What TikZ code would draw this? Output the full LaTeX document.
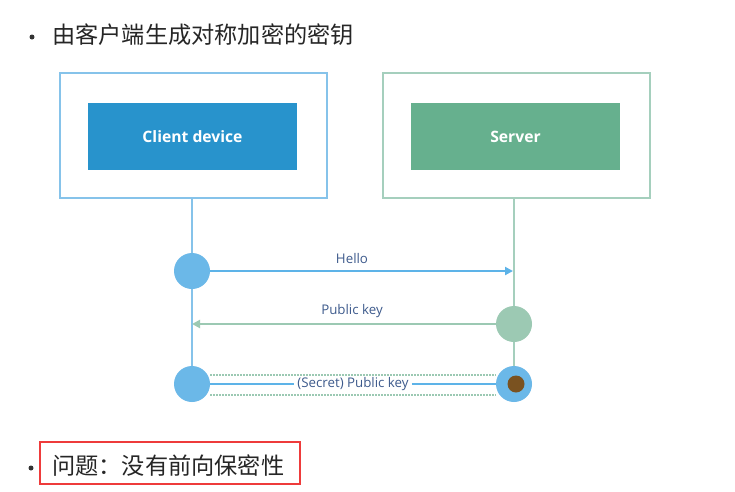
\documentclass[tikz,border=0pt]{standalone}
\usepackage{fontspec}
\setmainfont{Open Sans}
\newfontfamily\cjk{Noto Sans CJK SC}
\usetikzlibrary{arrows.meta}
\definecolor{cblue}{HTML}{2893CC}
\definecolor{cbord}{HTML}{86C3EA}
\definecolor{sgreen}{HTML}{66B08E}
\definecolor{sbord}{HTML}{A5CFBD}
\definecolor{dotblue}{HTML}{6BB8E8}
\definecolor{dotgreen}{HTML}{9CC9B3}
\definecolor{lblue}{HTML}{5DB3E8}
\definecolor{lab}{HTML}{3D5A8C}
\definecolor{redbox}{HTML}{EE3B3B}
\definecolor{brown}{HTML}{7A5220}
\begin{document}
\begin{tikzpicture}[x=1pt,y=-1pt,
  outerbox/.style={draw, line width=2pt, minimum width=267pt, minimum height=125pt, inner sep=0pt},
  innerbox/.style={minimum width=209pt, minimum height=67pt, inner sep=0pt, text=white, font=\bfseries\fontsize{15.7}{18}\selectfont},
  dotc/.style={circle, minimum size=36pt, inner sep=0pt},
  lbl/.style={text=lab, font=\fontsize{13.3}{15}\selectfont},
  bul/.style={circle, fill=black!80, minimum size=5pt, inner sep=0pt},
  cjktext/.style={font=\cjk\fontsize{23.2}{26}\selectfont, text=black!85, anchor=west, inner sep=0pt}]
\fill[white] (0,0) rectangle (735,491);
\useasboundingbox (0,0) rectangle (735,491);
% title
\node[bul] (b1) at (32,37) {};
\node[cjktext] (title) at (52,35) {由客户端生成对称加密的密钥};
% boxes
\node[outerbox, draw=cbord] (cout) at (193.5,135.5) {};
\node[innerbox, fill=cblue] (client) at (192.5,136.5) {Client device};
\node[outerbox, draw=sbord] (sout) at (516.5,135.5) {};
\node[innerbox, fill=sgreen] (server) at (515.5,136.5) {Server};
% lifeline points
\coordinate (cb) at (192,385);
\coordinate (sb) at (514,385);
\draw[cbord, line width=2pt] (cout.south -| cb) -- (cb);
\draw[sbord, line width=2pt] (sout.south -| sb) -- (sb);
% circles
\node[dotc, fill=dotblue] (c1) at (192,271) {};
\node[dotc, fill=dotgreen] (s2) at (514,324) {};
\node[dotc, fill=dotblue] (c3) at (192,384) {};
\node[dotc, fill=dotblue] (s3) at (514,384) {};
\node[circle, fill=brown, minimum size=17pt, inner sep=0pt] (mouse) at (516,384) {};
% hello
\coordinate (helloend) at (513,271);
\draw[lblue, line width=2pt, -{Triangle[length=8pt,width=8pt]}] (c1.east) -- (helloend);
\node[lbl] (hello) at (352,259) {Hello};
% public key
\coordinate (pkend) at (192,324);
\draw[dotgreen, line width=2pt, -{Triangle[length=8pt,width=8pt]}] (s2.west) -- (pkend);
\node[lbl] (pk) at (352,311) {Public key};
% secret
\draw[dotgreen, line width=2pt, dash pattern=on 1.5pt off 1.5pt] (c3.east |- 0,375) -- (s3.west |- 0,375);
\draw[dotgreen, line width=2pt, dash pattern=on 1.5pt off 1.5pt] (c3.east |- 0,395) -- (s3.west |- 0,395);
\node[lbl, inner sep=3pt] (spk) at (353,384) {(Secret) Public key};
\draw[lblue, line width=2pt] (c3.east) -- (spk.west |- c3.east);
\draw[lblue, line width=2pt] (spk.east |- s3.west) -- (s3.west);
% bottom
\node[bul] (b2) at (31,468) {};
\node[cjktext] (q) at (52,466) {问题：没有前向保密性};
\draw[redbox, line width=2pt] (40,442) rectangle (300,484);
\end{tikzpicture}
\end{document}
